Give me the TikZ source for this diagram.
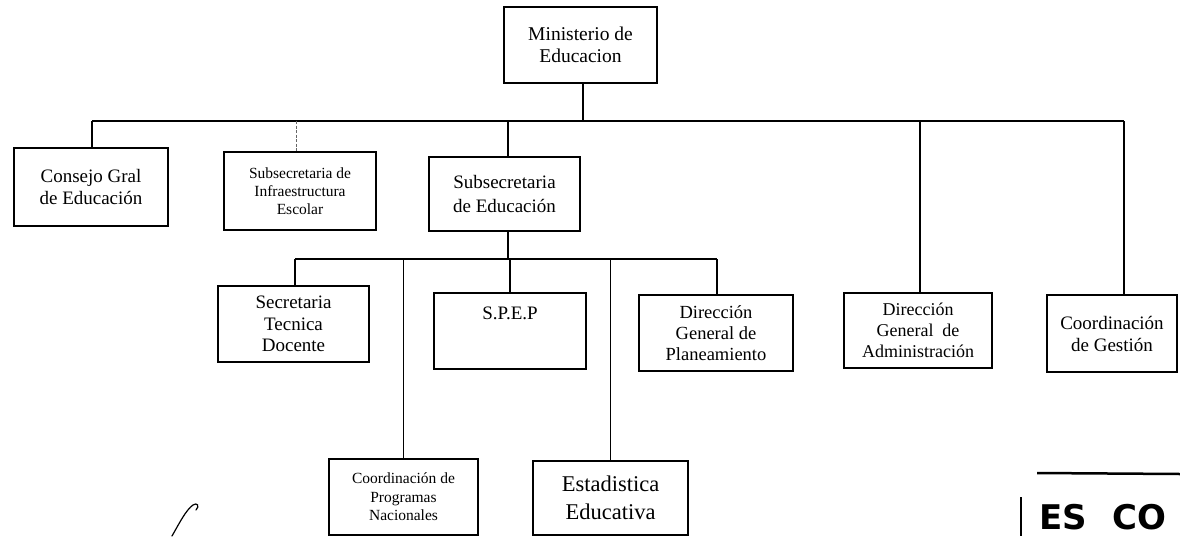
\documentclass[tikz,border=0pt]{standalone}
\usepackage{fontspec}
\setmainfont{Liberation Serif}
\newfontfamily\stampfont{DejaVu Sans}[WordSpace=2.2]
\tikzset{
  box/.style={draw=black, line width=1.5pt, align=center, inner sep=0pt, fill=white,
              font=\fontsize{19}{22}\selectfont},
  wire/.style={line width=1.2pt, draw=black},
  faint/.style={line width=0.8pt, draw=black!60, dash pattern=on 3pt off 1.5pt},
}
\begin{document}
\begin{tikzpicture}[x=1pt,y=-1pt]
\useasboundingbox (0,0) rectangle (1180,536);
\clip (0,0) rectangle (1180,536);

% top
\node[box, minimum width=153, minimum height=76, font=\fontsize{19.5}{22}\selectfont] (min) at (580.5,45) {Ministerio de\\Educacion};

% first level
\node[box, minimum width=154, minimum height=78] (cons) at (91,187) {Consejo Gral\\de Educación};
\node[box, minimum width=152, minimum height=78, font=\fontsize{15.5}{18}\selectfont] (infra) at (300,191) {Subsecretaria de\\Infraestructura\\Escolar};
\node[box, minimum width=151, minimum height=74, font=\fontsize{19}{24}\selectfont] (subed) at (504.5,194) {Subsecretaria\\de Educación};
\node[box, minimum width=148, minimum height=75, font=\fontsize{18}{21}\selectfont] (adm) at (918,330.5) {Dirección\\General~ de\\Administración};
\node[box, minimum width=130, minimum height=77] (ges) at (1112,333.5) {Coordinación\\de Gestión};

% second level
\node[box, minimum width=151, minimum height=76, font=\fontsize{19}{21.5}\selectfont] (sec) at (293.5,324) {Secretaria\\Tecnica\\Docente};
\node[box, minimum width=152, minimum height=76] (spep) at (510,331) {S.P.E.P\\[14pt]~};
\node[box, minimum width=154, minimum height=76, font=\fontsize{18.5}{21}\selectfont] (plan) at (716,333) {Dirección\\General de\\Planeamiento};
\node[box, minimum width=149, minimum height=76, font=\fontsize{15.5}{18.5}\selectfont] (prog) at (403.5,497) {Coordinación de\\Programas\\Nacionales};
\node[box, minimum width=155, minimum height=74, font=\fontsize{22.5}{28}\selectfont] (est) at (610.5,498) {Estadistica\\Educativa};

% main bus
\coordinate (busL) at (92,121);
\coordinate (busR) at (1124,121);
\draw[wire] ([xshift=2.5pt]min.south) -- ([xshift=2.5pt]min.south |- busL);
\draw[wire] (busL) -- (busR);
\draw[wire] (busL) -- (busL |- cons.north);
\draw[faint] ([xshift=-4pt]infra.north |- busL) -- ([xshift=-4pt]infra.north);
\draw[wire] ([xshift=3.5pt]subed.north |- busL) -- ([xshift=3.5pt]subed.north);
\draw[wire] ([xshift=2pt]adm.north |- busL) -- ([xshift=2pt]adm.north);
\draw[wire] (busR) -- (busR |- ges.north);

% sub bus
\coordinate (sbL) at (295,259);
\coordinate (sbR) at (717,259);
\draw[wire] ([xshift=3.5pt]subed.south) -- ([xshift=3.5pt]subed.south |- sbL);
\draw[wire] (sbL) -- (sbR);
\draw[wire] (sbL) -- (sbL |- sec.north);
\draw[wire] (spep.north |- sbL) -- (spep.north);
\draw[wire] (sbR) -- (sbR |- plan.north);
\draw[wire] (prog.north |- sbL) -- (prog.north);
\draw[wire] (est.north |- sbL) -- (est.north);

% stamp fragment
\draw[line width=2.5pt] (1037,473) -- (1180,474);
\draw[line width=1.8pt] (1021,497) -- (1021,536);
\node[anchor=base west, inner sep=0pt, text depth=0pt, font=\stampfont\bfseries\fontsize{34}{34}\selectfont] (stamp) at (1039,529) {ES CO};

% pen stroke
\draw[line width=1.2pt, line cap=round] (172,536) .. controls (180,522) and (186,510) .. (193,505) .. controls (197,502) and (200,506) .. (196,510);
\end{tikzpicture}
\end{document}
